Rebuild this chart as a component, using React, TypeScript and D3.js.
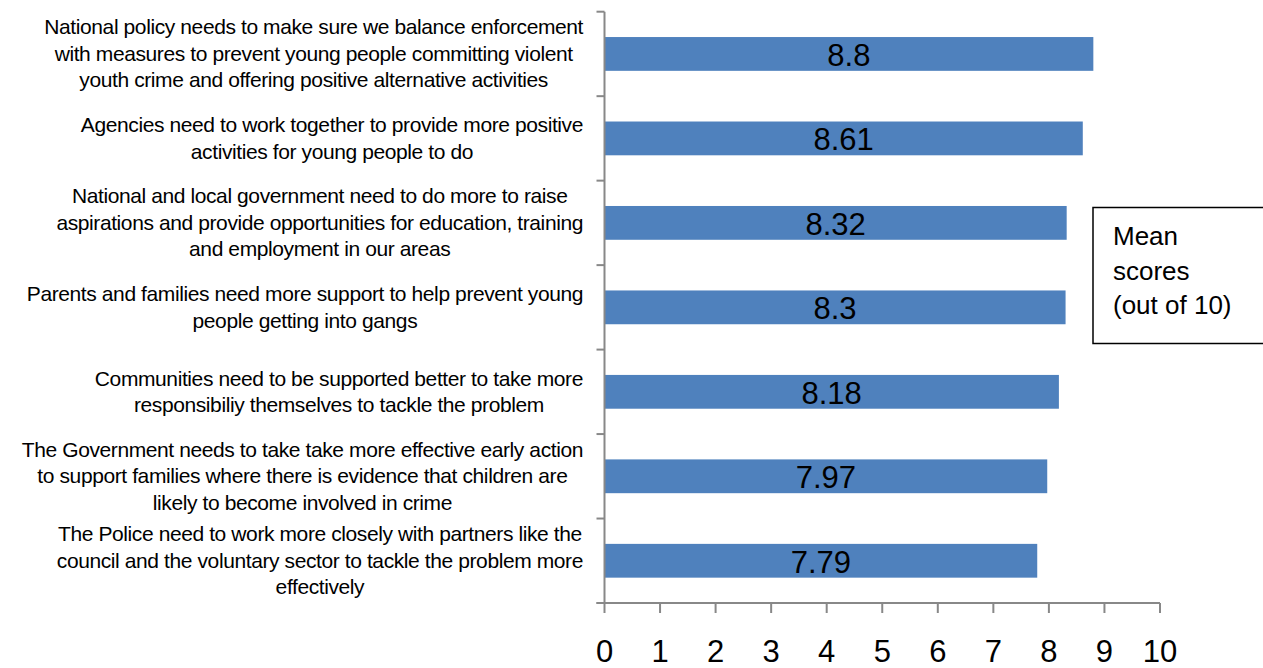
import React, { useEffect, useRef } from "react";
import * as d3 from "d3";

const categoryLines: string[][] = [
  [
    "National policy needs to make sure we balance enforcement",
    "with measures to prevent young people committing violent",
    "youth crime and offering positive alternative activities",
  ],
  [
    "Agencies need to work together to provide more positive",
    "activities for young people to do",
  ],
  [
    "National and local government need to do more to raise",
    "aspirations and provide opportunities for education, training",
    "and employment in our areas",
  ],
  [
    "Parents and families need more support to help prevent young",
    "people getting into gangs",
  ],
  [
    "Communities need to be supported better to take more",
    "responsibiliy themselves to tackle the problem",
  ],
  [
    "The Government needs to take take more effective early action",
    "to support  families where there is evidence that  children are",
    "likely to become involved in crime",
  ],
  [
    "The Police need to work more closely with partners like the",
    "council and the voluntary sector to tackle the problem more",
    "effectively",
  ],
];

const values: number[] = [8.8, 8.61, 8.32, 8.3, 8.18, 7.97, 7.79];
const xTicks: number[] = [0, 1, 2, 3, 4, 5, 6, 7, 8, 9, 10];
const legendLines: string[] = ["Mean", "scores", "(out of 10)"];

const W = 1263;
const H = 668;
const FONT = "'Liberation Sans', Arial, sans-serif";
const BAR = "#4F81BD";
const AXIS = "#888888";

export default function App() {
  const ref = useRef<SVGSVGElement | null>(null);

  useEffect(() => {
    const svg = d3.select(ref.current);
    svg.selectAll("*").remove();

    const ids = categoryLines.map((_, i) => String(i));
    const x = d3.scaleLinear().domain([0, 10]).range([604.5, 1160]);
    const y = d3
      .scaleBand<string>()
      .domain(ids)
      .range([11.7, 603])
      .paddingInner(0.6)
      .paddingOuter(0.3);
    const step = y.step();
    const bw = y.bandwidth();
    const gap = (step - bw) / 2;

    // bars
    svg
      .append("g")
      .selectAll("rect")
      .data(values)
      .join("rect")
      .attr("x", x(0))
      .attr("y", (_, i) => y(ids[i])!)
      .attr("width", (d) => x(d) - x(0))
      .attr("height", bw)
      .attr("fill", BAR);

    // value labels
    svg
      .append("g")
      .selectAll("text")
      .data(values)
      .join("text")
      .attr("x", (d) => (x(0) + x(d)) / 2)
      .attr("y", (_, i) => y(ids[i])! + bw / 2 + 12)
      .attr("text-anchor", "middle")
      .attr("font-family", FONT)
      .attr("font-size", 31)
      .attr("fill", "#000")
      .text((d) => String(d));

    // y axis
    const axisG = svg.append("g").attr("stroke", AXIS).attr("stroke-width", 2);
    axisG
      .append("line")
      .attr("x1", x(0))
      .attr("x2", x(0))
      .attr("y1", y(ids[0])! - gap)
      .attr("y2", y(ids[ids.length - 1])! + bw + gap);
    const boundaries = ids.map((id) => y(id)! - gap);
    boundaries.push(y(ids[ids.length - 1])! + bw + gap);
    axisG
      .selectAll("line.yt")
      .data(boundaries)
      .join("line")
      .attr("class", "yt")
      .attr("x1", x(0) - 8)
      .attr("x2", x(0))
      .attr("y1", (d) => d)
      .attr("y2", (d) => d);

    // x axis
    const axisY = boundaries[boundaries.length - 1];
    axisG
      .append("line")
      .attr("x1", x(0) - 8)
      .attr("x2", x(10))
      .attr("y1", axisY)
      .attr("y2", axisY);
    axisG
      .selectAll("line.xt")
      .data(xTicks)
      .join("line")
      .attr("class", "xt")
      .attr("x1", (d) => x(d))
      .attr("x2", (d) => x(d))
      .attr("y1", axisY)
      .attr("y2", axisY + 10);

    svg
      .append("g")
      .selectAll("text")
      .data(xTicks)
      .join("text")
      .attr("x", (d) => x(d))
      .attr("y", axisY + 59)
      .attr("text-anchor", "middle")
      .attr("font-family", FONT)
      .attr("font-size", 31)
      .attr("fill", "#000")
      .text((d) => String(d));

    // category labels: block right-aligned at 583, lines centered in block
    const rightEdge = 583;
    const lh = 26.5;
    const labG = svg.append("g");
    categoryLines.forEach((lines, i) => {
      const cy = y(ids[i])! + bw / 2;
      const texts = lines.map((ln, j) =>
        labG
          .append("text")
          .attr("y", cy + (j - (lines.length - 1) / 2) * lh + 7)
          .attr("text-anchor", "middle")
          .attr("font-family", FONT)
          .attr("font-size", 21)
          .attr("letter-spacing", -0.4)
          .attr("fill", "#000")
          .text(ln)
      );
      const widths = texts.map((t) => (t.node() as SVGTextElement).getComputedTextLength());
      const maxW = d3.max(widths) ?? 0;
      texts.forEach((t) => t.attr("x", rightEdge - maxW / 2));
    });

    // legend box
    const lg = svg.append("g");
    lg.append("rect")
      .attr("x", 1093)
      .attr("y", 207.5)
      .attr("width", 180)
      .attr("height", 136)
      .attr("fill", "#fff")
      .attr("stroke", "#000")
      .attr("stroke-width", 1.5);
    lg.selectAll("text")
      .data(legendLines)
      .join("text")
      .attr("x", 1113)
      .attr("y", (_, i) => 245 + i * 34.5)
      .attr("font-family", FONT)
      .attr("font-size", 26)
      .attr("fill", "#000")
      .text((d) => d);
  }, []);

  return (
    <svg
      ref={ref}
      width={W}
      height={H}
      style={{ position: "absolute", left: 0, top: 0, background: "#fff" }}
    />
  );
}
